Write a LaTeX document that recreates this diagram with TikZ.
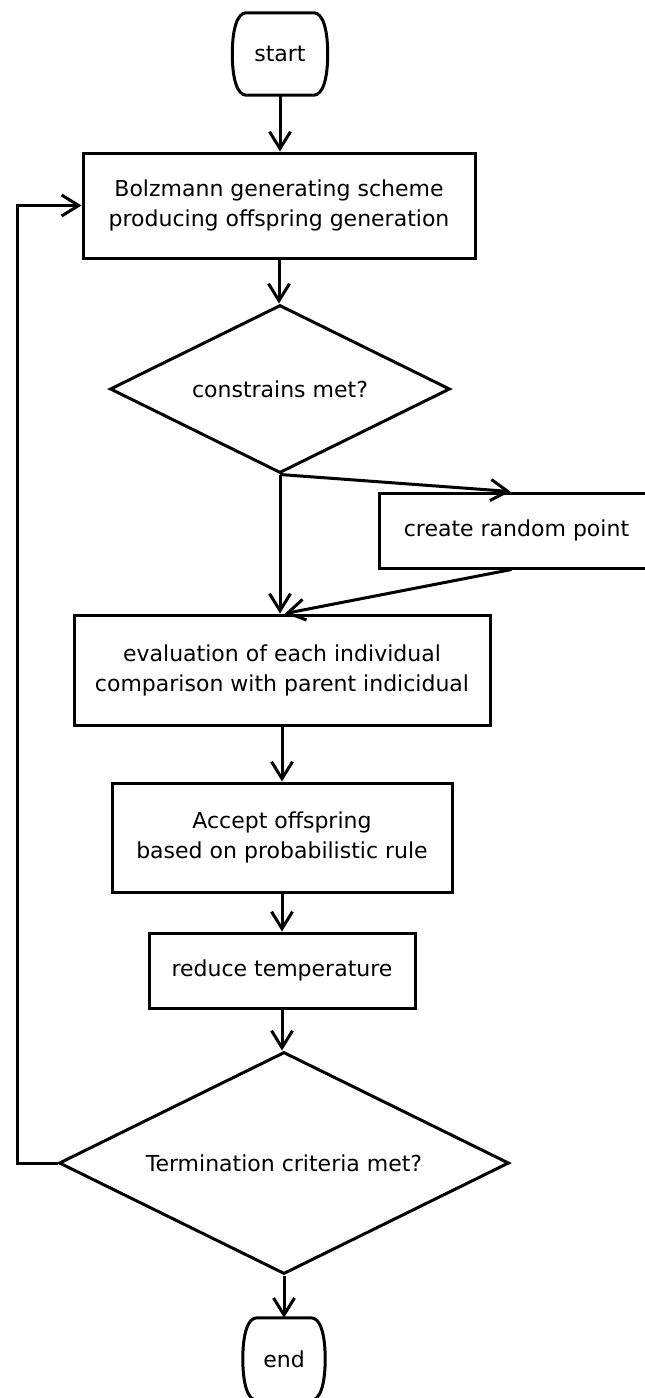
\documentclass[tikz,border=0pt]{standalone}
\usepackage{fontspec}
\setmainfont{DejaVu Sans}
\usetikzlibrary{arrows.meta,shapes.geometric}
\tikzset{
  every node/.style={font=\fontsize{22}{30}\selectfont, text=black},
  line/.style={line width=3pt, draw=black},
  arr/.style={line, -{Straight Barb[length=17pt,width=21pt]}},
  stepbox/.style={line, rectangle, align=center, inner sep=0pt},
  termbox/.style={rectangle, inner sep=0pt},
  decision/.style={line, diamond, aspect=2, inner sep=0pt},
}
% outline of a start/end terminal: flat top and bottom, bulging sides
\newcommand\termoutline[1]{%
  \draw[line] ([xshift=14pt]#1.north west) -- ([xshift=-14pt]#1.north east)
    .. controls ([xshift=-5pt]#1.north east) and ([yshift=-16pt]#1.north east) .. (#1.east)
    .. controls ([yshift=16pt]#1.south east) and ([xshift=-5pt]#1.south east) .. ([xshift=-14pt]#1.south east)
    -- ([xshift=14pt]#1.south west)
    .. controls ([xshift=5pt]#1.south west) and ([yshift=16pt]#1.south west) .. (#1.west)
    .. controls ([yshift=-16pt]#1.north west) and ([xshift=5pt]#1.north west) .. cycle;}
\begin{document}
\begin{tikzpicture}[x=1pt, y=-1pt]
  \clip (0,0) rectangle (645,1398);
  \fill[white] (0,0) rectangle (645,1398);

  % terminals, process boxes and decisions
  \node[termbox, minimum width=95pt, minimum height=82pt] (start) at (280,54) {start};
  \termoutline{start}
  \node[stepbox, minimum width=392pt, minimum height=105pt] (gen) at (279,205.5)
    {Bolzmann generating scheme\\producing offspring generation};
  \node[decision, minimum width=340pt, minimum height=168pt] (cons) at (280,389) {constrains met?};
  \node[stepbox, minimum width=275pt, minimum height=75pt] (rnd) at (516.5,530.5) {create random point};
  \node[stepbox, minimum width=416pt, minimum height=110pt] (eval) at (282,670)
    {evaluation of each individual\\comparison with parent indicidual};
  \node[stepbox, minimum width=340pt, minimum height=109pt] (acc) at (282,837.5)
    {Accept offspring\\based on probabilistic rule};
  \node[stepbox, minimum width=266pt, minimum height=75pt] (temp) at (282,970.5) {reduce temperature};
  \node[decision, minimum width=450pt, minimum height=222pt] (term) at (284,1163) {Termination criteria met?};
  \node[termbox, minimum width=82pt, minimum height=82pt] (end) at (284,1359) {end};
  \termoutline{end}

  % connectors
  \coordinate (loop) at (17,1163);
  \draw[arr] (start.south) -- (start.south |- gen.north);
  \draw[arr] (gen.south) -- (gen.south |- cons.north);
  \draw[arr] (cons.south) -- (cons.south |- eval.north);
  \draw[arr] (cons.south) -- ([xshift=133pt]rnd.north west);
  \draw[arr] ([xshift=134pt]rnd.south west) -- ([xshift=3pt]eval.north);
  \draw[arr] (eval) -- (acc);
  \draw[arr] (acc) -- (temp);
  \draw[arr] (temp.south) -- (temp.south |- term.north);
  \draw[arr] (term.south) -- (term.south |- end.north);
  \draw[arr] (term.west) -- (loop) |- (gen.west);
\end{tikzpicture}
\end{document}
